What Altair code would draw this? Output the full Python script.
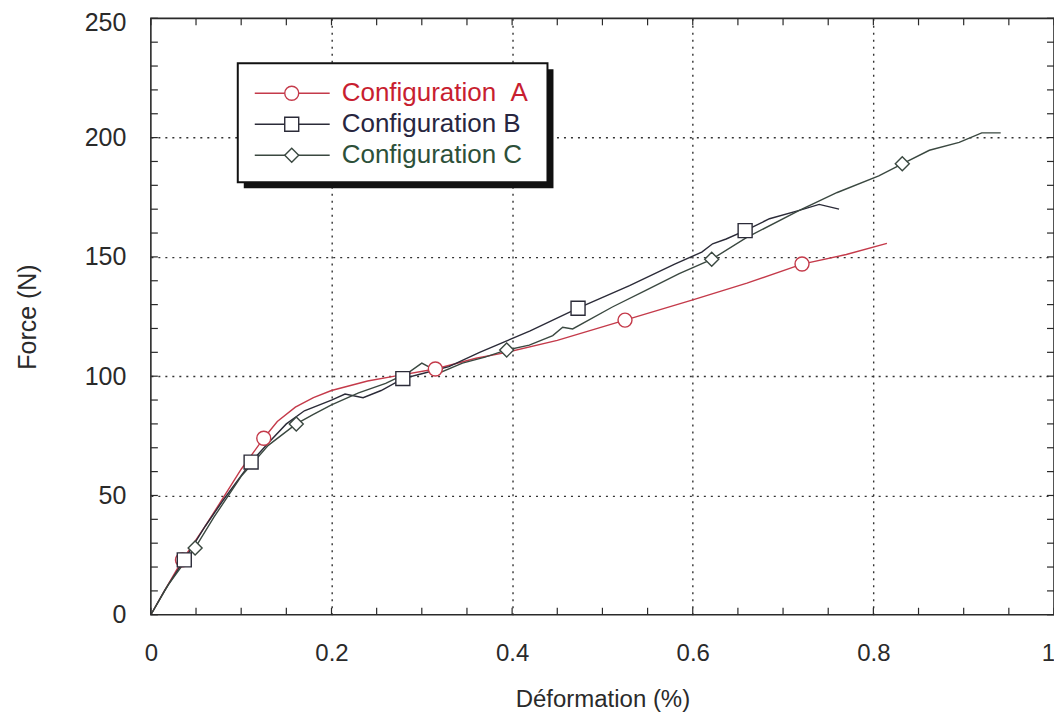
import altair as alt
import pandas as pd

SERIES = ["Configuration \u00a0A", "Configuration B", "Configuration C"]
LINE_COLORS = ["#c43a4a", "#2b2b38", "#3a4840"]
TEXT_COLORS = ["#c81e30", "#28263f", "#2d5039"]
SHAPES = ["circle", "square", "diamond"]

A_X = [0, 0.015, 0.035, 0.06, 0.08, 0.1, 0.125, 0.14, 0.16, 0.18, 0.2, 0.22, 0.24, 0.27, 0.315,
       0.36, 0.394, 0.45, 0.525, 0.6, 0.66, 0.721, 0.77, 0.815]
A_Y = [0, 10, 23, 37, 49, 61, 74, 81, 87, 91, 94, 96, 98, 100, 103,
       107.5, 110, 115, 123.5, 132, 139, 147, 151, 155.7]

B_X = [0, 0.015, 0.037, 0.06, 0.08, 0.111, 0.13, 0.15, 0.17, 0.2, 0.215, 0.235, 0.255, 0.279,
       0.3, 0.33, 0.364, 0.42, 0.473, 0.53, 0.58, 0.61, 0.622, 0.637, 0.658, 0.685, 0.718, 0.74, 0.762]
B_Y = [0, 10, 23, 37, 48, 64, 72, 80, 85.5, 90, 92.5, 91, 94, 99,
       101, 104, 110, 119, 128.5, 138, 147, 152, 155.5, 157.5, 161, 166, 169.5, 172, 170]

C_X = [0, 0.02, 0.049, 0.07, 0.1, 0.13, 0.161, 0.18, 0.2, 0.23, 0.26, 0.286, 0.3, 0.32, 0.345,
       0.37, 0.394, 0.419, 0.445, 0.456, 0.467, 0.511, 0.548, 0.585, 0.621, 0.659, 0.718, 0.76,
       0.806, 0.832, 0.862, 0.895, 0.92, 0.941]
C_Y = [0, 13, 28, 41, 58, 71, 80, 84, 88, 93, 97, 101.7, 105.5, 101.5, 105.5,
       108, 111, 113, 117, 120.5, 119.8, 129, 136, 143, 149, 158, 169.5, 177,
       184, 189, 194.7, 198, 202, 202]

A_MX = [0.035, 0.125, 0.315, 0.525, 0.721]
A_MY = [23, 74, 103, 123.5, 147]
B_MX = [0.037, 0.111, 0.279, 0.473, 0.658]
B_MY = [23, 64, 99, 128.5, 161]
C_MX = [0.049, 0.161, 0.394, 0.621, 0.832]
C_MY = [28, 80, 111, 149, 189]

X_TICKS = [0, 0.05, 0.1, 0.15, 0.2, 0.25, 0.3, 0.35, 0.4, 0.45, 0.5,
           0.55, 0.6, 0.65, 0.7, 0.75, 0.8, 0.85, 0.9, 0.95, 1]
Y_TICKS = [0, 10, 20, 30, 40, 50, 60, 70, 80, 90, 100, 110, 120, 130, 140, 150,
           160, 170, 180, 190, 200, 210, 220, 230, 240, 250]

FONT = "Liberation Sans"
INK = "#2a2a2a"
W, H = 904, 597
TL = 7  # inward tick length

rows = []
for name, xs, ys in zip(SERIES, [A_X, B_X, C_X], [A_Y, B_Y, C_Y]):
    for i, (x, y) in enumerate(zip(xs, ys)):
        rows.append({"series": name, "x": x, "y": y, "i": i})
lines_df = pd.DataFrame(rows)

mrows = []
for name, xs, ys in zip(SERIES, [A_MX, B_MX, C_MX], [A_MY, B_MY, C_MY]):
    for x, y in zip(xs, ys):
        mrows.append({"series": name, "x": x, "y": y})
marks_df = pd.DataFrame(mrows)

x_scale = alt.Scale(domain=[0, 1], nice=False, zero=False)
y_scale = alt.Scale(domain=[0, 250], nice=False, zero=False)
color_scale = alt.Scale(domain=SERIES, range=LINE_COLORS)
shape_scale = alt.Scale(domain=SERIES, range=SHAPES)

x_major = "round(datum.value*20) % 4 == 0"
y_major = "datum.value % 50 == 0"

bottom_axis = alt.Axis(
    orient="bottom", values=X_TICKS, ticks=False, domain=False,
    grid=True, gridColor="#333", gridDash=[2, 5], gridWidth=1.4,
    gridOpacity={"condition": {"test": x_major + " && datum.value > 0 && datum.value < 1", "value": 1}, "value": 0},
    labelExpr=x_major + " ? format(datum.value, '~g') : ''",
    labelOffset={"condition": {"test": "datum.value == 1", "value": -6}, "value": 0},
    labelFont=FONT, labelFontSize=24, labelColor=INK, labelPadding=27,
    labelFlush=False, labelOverlap=False, labelBound=False,
    title="Déformation (%)", titleFont=FONT, titleFontSize=24, titleFontWeight="normal",
    titleColor=INK, titlePadding=22,
)
left_axis = alt.Axis(
    orient="left", values=Y_TICKS, ticks=False, domain=False,
    grid=True, gridColor="#333", gridDash=[2, 5], gridWidth=1.4,
    gridOpacity={"condition": {"test": y_major + " && datum.value > 0 && datum.value < 250", "value": 1}, "value": 0},
    labelExpr=y_major + " ? datum.label : ''",
    labelOffset={"condition": {"test": "datum.value == 250", "value": 4}, "value": 0},
    labelFont=FONT, labelFontSize=25, labelColor=INK, labelPadding=25,
    labelFlush=False, labelOverlap=False,
    title="Force (N)", titleFont=FONT, titleFontSize=25, titleFontWeight="normal",
    titleColor=INK, titlePadding=44,
)

def X(field):
    return alt.X(field, scale=x_scale, axis=bottom_axis)

def Y(field):
    return alt.Y(field, scale=y_scale, axis=left_axis)

lines = alt.Chart(lines_df).mark_line(strokeWidth=1.4).encode(
    x=X("x:Q"), y=Y("y:Q"),
    color=alt.Color("series:N", scale=color_scale, legend=None),
    order="i:Q",
)

markers = alt.Chart(marks_df).mark_point(filled=True, fill="white", strokeWidth=1.4, opacity=1, size=196).encode(
    x=X("x:Q"), y=Y("y:Q"),
    shape=alt.Shape("series:N", scale=shape_scale, legend=None),
    stroke=alt.Stroke("series:N", scale=color_scale, legend=None),
)

xt = pd.DataFrame({"v": X_TICKS})
yt = pd.DataFrame({"v": Y_TICKS})
tick_style = dict(color=INK, strokeWidth=1.2)
ticks_bottom = alt.Chart(xt).mark_rule(**tick_style).encode(
    x=X("v:Q"), y=alt.value(H - TL), y2=alt.value(H))
ticks_top = alt.Chart(xt).mark_rule(**tick_style).encode(
    x=X("v:Q"), y=alt.value(0), y2=alt.value(TL))
ticks_left = alt.Chart(yt).mark_rule(**tick_style).encode(
    y=Y("v:Q"), x=alt.value(0), x2=alt.value(TL))
ticks_right = alt.Chart(yt).mark_rule(**tick_style).encode(
    y=Y("v:Q"), x=alt.value(W - TL), x2=alt.value(W))

one = pd.DataFrame({"k": [0]})
shadow = alt.Chart(one).mark_rect(color="#111", opacity=1).encode(
    x=alt.value(93), x2=alt.value(403), y=alt.value(51), y2=alt.value(170))
box = alt.Chart(one).mark_rect(fill="white", stroke="#111", strokeWidth=2, opacity=1).encode(
    x=alt.value(87), x2=alt.value(397), y=alt.value(45), y2=alt.value(164))

legend_layers = [shadow, box]
for i, name in enumerate(SERIES):
    ly = 75 + 31 * i
    d = pd.DataFrame({"series": [name]})
    legend_layers.append(alt.Chart(d).mark_rule(color=LINE_COLORS[i], strokeWidth=1.4).encode(
        x=alt.value(104), x2=alt.value(179), y=alt.value(ly)))
    legend_layers.append(alt.Chart(d).mark_point(
        shape=SHAPES[i], filled=True, fill="white", stroke=LINE_COLORS[i], strokeWidth=1.4,
        size=196, opacity=1).encode(x=alt.value(141), y=alt.value(ly)))
    legend_layers.append(alt.Chart(d).mark_text(
        text=name, align="left", baseline="middle", font=FONT, fontSize=26,
        color=TEXT_COLORS[i]).encode(x=alt.value(191), y=alt.value(ly)))

chart = alt.layer(
    lines, markers, ticks_bottom, ticks_top, ticks_left, ticks_right, *legend_layers
).properties(
    width=W, height=H,
    padding={"left": 143, "top": 10, "right": 0, "bottom": 97},
    autosize=alt.AutoSizeParams(type="none"),
    background="white",
).configure_view(stroke=INK, strokeWidth=1.6)

chart.save("out.html", embed_options={"renderer": "svg", "actions": False})
